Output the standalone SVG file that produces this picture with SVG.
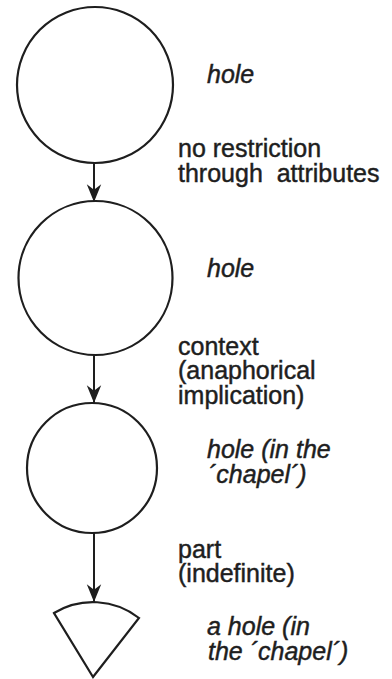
<svg xmlns="http://www.w3.org/2000/svg" width="392" height="679" viewBox="0 0 392 679">
<style>
.node{fill:none;stroke:#1e1e1e;stroke-width:2.2}
.edge{stroke:#1e1e1e;stroke-width:2;fill:none}
text{font-family:"Liberation Sans",Arial,sans-serif;font-size:25px;fill:#1e1e1e;stroke:#1e1e1e;stroke-width:0.45}
.it{font-style:italic}
</style>
<defs>
<marker id="arr" markerUnits="userSpaceOnUse" markerWidth="20" markerHeight="20" viewBox="-16 -8 18 16" refX="0" refY="0" orient="auto">
<path d="M0,0 L-16,-6.5 L-11,0 L-16,6.5 Z" fill="#1e1e1e"/>
</marker>
</defs>
<rect width="392" height="679" fill="#fff"/>
<g id="connectors">
<line class="edge" x1="94" y1="163" x2="94" y2="202" marker-end="url(#arr)"/>
<line class="edge" x1="94" y1="355" x2="94" y2="403" marker-end="url(#arr)"/>
<line class="edge" x1="94" y1="533" x2="94" y2="602" marker-end="url(#arr)"/>
</g>
<g id="node1">
<circle class="node" cx="95" cy="85" r="78"/>
<text class="it" x="207" y="83">hole</text>
</g>
<g id="label1">
<text x="178" y="157">no restriction</text>
<text x="178" y="182" xml:space="preserve">through  attributes</text>
</g>
<g id="node2">
<circle class="node" cx="95.5" cy="278" r="77"/>
<text class="it" x="207" y="277">hole</text>
</g>
<g id="label2">
<text x="178" y="355">context</text>
<text x="178" y="379">(anaphorical</text>
<text x="178" y="404">implication)</text>
</g>
<g id="node3">
<circle class="node" cx="92" cy="468" r="65"/>
<text class="it" x="207" y="458">hole (in the</text>
<text class="it" x="208" y="483">´chapel´)</text>
</g>
<g id="label3">
<text x="178" y="558">part</text>
<text x="178" y="582">(indefinite)</text>
</g>
<g id="node4">
<path class="node" d="M93,677 L54,613 A75,75 0 0 1 139,618 Z"/>
<text class="it" x="207" y="635">a hole (in</text>
<text class="it" x="208" y="660">the ´chapel´)</text>
</g>
</svg>
